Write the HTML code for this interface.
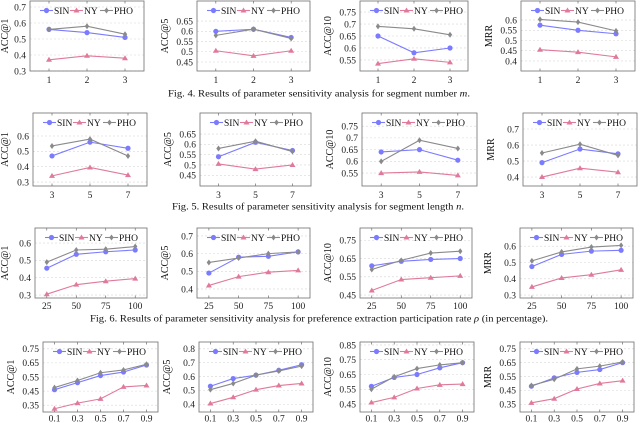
<!DOCTYPE html>
<html><head><meta charset="utf-8">
<style>
html,body{margin:0;padding:0;background:#fff;}
svg{display:block;font-family:"Liberation Serif",serif;}
</style></head>
<body>
<svg id="fig" width="640" height="423" viewBox="0 0 640 423" xmlns="http://www.w3.org/2000/svg"></svg>
<script>
// ---- data ----
const seriesNames = ["SIN","NY","PHO"];
const xCatsM = [1,2,3];
const xCatsN = [3,5,7];
const xCatsRho = [25,50,75,100];
const xCatsR4 = [0.1,0.3,0.5,0.7,0.9];
const metricNames = ["ACC@1","ACC@5","ACC@10","MRR"];

const r1c1SIN=[0.56,0.54,0.51], r1c1NY=[0.37,0.395,0.38], r1c1PHO=[0.56,0.58,0.53];
const r1c2SIN=[0.60,0.61,0.57], r1c2NY=[0.505,0.48,0.505], r1c2PHO=[0.58,0.61,0.565];
const r1c3SIN=[0.65,0.58,0.60], r1c3NY=[0.535,0.555,0.54], r1c3PHO=[0.69,0.68,0.655];
const r1c4SIN=[0.575,0.55,0.533], r1c4NY=[0.455,0.443,0.42], r1c4PHO=[0.603,0.59,0.547];

const r2c1SIN=[0.47,0.56,0.52], r2c1NY=[0.34,0.395,0.345], r2c1PHO=[0.535,0.58,0.47];
const r2c2SIN=[0.54,0.61,0.57], r2c2NY=[0.505,0.48,0.50], r2c2PHO=[0.58,0.615,0.565];
const r2c3SIN=[0.64,0.65,0.605], r2c3NY=[0.55,0.555,0.54], r2c3PHO=[0.60,0.69,0.655];
const r2c4SIN=[0.49,0.575,0.545], r2c4NY=[0.40,0.455,0.43], r2c4PHO=[0.55,0.605,0.535];

const r3c1SIN=[0.455,0.535,0.55,0.56], r3c1NY=[0.305,0.36,0.38,0.395], r3c1PHO=[0.49,0.56,0.565,0.58];
const r3c2SIN=[0.49,0.58,0.585,0.61], r3c2NY=[0.42,0.47,0.495,0.505], r3c2PHO=[0.55,0.575,0.60,0.61];
const r3c3SIN=[0.61,0.635,0.645,0.65], r3c3NY=[0.475,0.535,0.545,0.555], r3c3PHO=[0.59,0.64,0.68,0.69];
const r3c4SIN=[0.475,0.55,0.57,0.575], r3c4NY=[0.35,0.405,0.425,0.455], r3c4PHO=[0.51,0.565,0.595,0.605];

const r4c1SIN=[0.46,0.51,0.56,0.585,0.635], r4c1NY=[0.325,0.365,0.395,0.48,0.49], r4c1PHO=[0.475,0.525,0.58,0.60,0.64];
const r4c2SIN=[0.53,0.585,0.61,0.645,0.685], r4c2NY=[0.405,0.45,0.505,0.535,0.55], r4c2PHO=[0.505,0.55,0.61,0.64,0.675];
const r4c3SIN=[0.57,0.63,0.65,0.695,0.73], r4c3NY=[0.46,0.495,0.555,0.58,0.585], r4c3PHO=[0.55,0.635,0.69,0.715,0.73];
const r4c4SIN=[0.48,0.54,0.58,0.60,0.65], r4c4NY=[0.36,0.39,0.46,0.50,0.52], r4c4PHO=[0.485,0.53,0.605,0.625,0.655];

const r1Ticks=[[0.3,0.4,0.5,0.6,0.7],[0.45,0.5,0.55,0.6,0.65],[0.55,0.6,0.65,0.7,0.75],[0.4,0.45,0.5,0.55,0.6]];
const r2Ticks=[[0.3,0.4,0.5,0.6],[0.45,0.5,0.55,0.6,0.65],[0.55,0.6,0.65,0.7,0.75],[0.4,0.5,0.6,0.7]];
const r3Ticks=[[0.3,0.4,0.5,0.6],[0.4,0.5,0.6,0.7],[0.45,0.55,0.65,0.75],[0.3,0.4,0.5,0.6]];
const r4Ticks=[[0.35,0.45,0.55,0.65,0.75],[0.4,0.5,0.6,0.7,0.8],[0.45,0.55,0.65,0.75,0.85],[0.35,0.45,0.55,0.65,0.75]];
</script>
<script>
const NS="http://www.w3.org/2000/svg";
const svg=document.getElementById("fig");
const COLORS={SIN:"#7b7bff",NY:"#e07a9a",PHO:"#8a8a8a"};
function mk(tag,attrs,parent){const e=document.createElementNS(NS,tag);for(const k in attrs)e.setAttribute(k,attrs[k]);(parent||svg).appendChild(e);return e;}
function fmt(v){return String(+v.toFixed(2));}
function marker(g,name,x,y){
  const c=COLORS[name];let m;
  if(name==="SIN"){m=mk("circle",{cx:x,cy:y,r:2.6,fill:c},g);}
  else if(name==="NY"){m=mk("path",{d:`M${x},${y-3}L${x+3},${y+2}L${x-3},${y+2}Z`,fill:c},g);}
  else{m=mk("path",{d:`M${x},${y-3}L${x+2.2},${y}L${x},${y+3}L${x-2.2},${y}Z`,fill:c},g);}
  
  
}
function chart(id,box,xDom,yDom,xCats,yTicks,series,ylabel,labOff){
  const [L,T,R,B]=box;
  const g=mk("g",{});
  
  
  const sx=v=>L+(v-xDom[0])/(xDom[1]-xDom[0])*(R-L);
  const sy=v=>B-(v-yDom[0])/(yDom[1]-yDom[0])*(B-T);
  yTicks.forEach(t=>{
    const y=sy(t);
    const gl=mk("line",{x1:L,x2:R,y1:y,y2:y,stroke:"#d6d6d6","stroke-width":0.6,"stroke-dasharray":"2,2"},g);
    
    
    const tl=mk("text",{x:L-4,y:y+3.3,"font-size":9.5,"text-anchor":"end",fill:"#222"},g);
    tl.textContent=fmt(t);
    
    
  });
  xCats.forEach(c=>{
    const x=sx(c);
    mk("line",{x1:x,x2:x,y1:B,y2:B-2.5,stroke:"#555","stroke-width":0.6},g);
    mk("line",{x1:x,x2:x,y1:T,y2:T+2.5,stroke:"#555","stroke-width":0.6},g);
    const tl=mk("text",{x:x,y:B+labOff,"font-size":9.5,"text-anchor":"middle",fill:"#222"},g);
    tl.textContent=String(c);
    
    
  });
  const frame=mk("rect",{x:L,y:T,width:R-L,height:B-T,fill:"none",stroke:"#6e6e6e","stroke-width":0.8},g);
  
  
  const tx=Math.max(L-29,8);
  const yl=mk("text",{x:0,y:0,"font-size":10,"text-anchor":"middle",fill:"#111",transform:`translate(${tx},${(T+B)/2}) rotate(-90)`},g);
  yl.textContent=ylabel;
  
  
  seriesNames.forEach((n,i)=>{
    const vals=series[i];
    const pts=vals.map((v,j)=>sx(xCats[j])+","+sy(v)).join(" ");
    const pl=mk("polyline",{points:pts,fill:"none",stroke:COLORS[n],"stroke-width":1.1},g);
    
    
    vals.forEach((v,j)=>marker(g,n,sx(xCats[j]),sy(v)));
  });
  const lg=mk("g",{},g);
  
  
  const ly=T+9.5;
  const offs=[10,40,70];
  seriesNames.forEach((n,i)=>{
    const x0=L+offs[i];
    mk("line",{x1:x0,x2:x0+13,y1:ly,y2:ly,stroke:COLORS[n],"stroke-width":1.1},lg);
    marker(lg,n,x0+6.5,ly);
    const t=mk("text",{x:x0+14,y:ly+3.5,"font-size":9.5,fill:"#111"},lg);
    t.textContent=n;
    
    
  });
}
const rows=[
 {T:1,B:71,lo:12,xDom:[0.5,3.5],cats:xCatsM,boxes:[[30,144],[197,310],[360,468],[521,635]],
  yd:[[0.3,0.7375],[0.406,0.748],[0.504,0.796],[0.351,0.693]],ticks:r1Ticks,
  data:[[r1c1SIN,r1c1NY,r1c1PHO],[r1c2SIN,r1c2NY,r1c2PHO],[r1c3SIN,r1c3NY,r1c3PHO],[r1c4SIN,r1c4NY,r1c4PHO]]},
 {T:113,B:186,lo:12,xDom:[2,8],cats:xCatsN,boxes:[[33,147],[200,311],[362,477],[523,637]],
  yd:[[0.274,0.75],[0.398,0.752],[0.495,0.806],[0.344,0.80]],ticks:r2Ticks,
  data:[[r2c1SIN,r2c1NY,r2c1PHO],[r2c2SIN,r2c2NY,r2c2PHO],[r2c3SIN,r2c3NY,r2c3PHO],[r2c4SIN,r2c4NY,r2c4PHO]]},
 {T:228,B:298,lo:11,xDom:[15,110],cats:xCatsRho,boxes:[[35,147],[197,310],[360,472],[520,633]],
  yd:[[0.283,0.687],[0.349,0.745],[0.434,0.817],[0.282,0.712]],ticks:r3Ticks,
  data:[[r3c1SIN,r3c1NY,r3c1PHO],[r3c2SIN,r3c2NY,r3c2PHO],[r3c3SIN,r3c3NY,r3c3PHO],[r3c4SIN,r3c4NY,r3c4PHO]]},
 {T:342,B:412,lo:9.5,xDom:[0,1],cats:xCatsR4,boxes:[[43,158],[199,313],[360,474],[520,634]],
  yd:[[0.302,0.798],[0.344,0.849],[0.396,0.87],[0.294,0.799]],ticks:r4Ticks,
  data:[[r4c1SIN,r4c1NY,r4c1PHO],[r4c2SIN,r4c2NY,r4c2PHO],[r4c3SIN,r4c3NY,r4c3PHO],[r4c4SIN,r4c4NY,r4c4PHO]]}
];
rows.forEach((r,ri)=>{
  r.boxes.forEach((b,ci)=>{
    chart(`chart-r${ri+1}-${metricNames[ci].toLowerCase().replace('@','at')}`,[b[0],r.T,b[1],r.B],r.xDom,r.yd[ci],r.cats,r.ticks[ci],r.data[ci],metricNames[ci],r.lo);
  });
});
const caps=[
 {y:96.5,x:168,w:302,parts:["Fig. 4.  Results of parameter sensitivity analysis for segment number ","m","."]},
 {y:209.5,x:172,w:292,parts:["Fig. 5.  Results of parameter sensitivity analysis for segment length ","n","."]},
 {y:321.5,x:90,w:458,parts:["Fig. 6.  Results of parameter sensitivity analysis for preference extraction participation rate ","\u03C1"," (in percentage)."]}
];
caps.forEach((c,i)=>{
  const t=mk("text",{x:c.x,y:c.y,"font-size":9.6,fill:"#111",textLength:c.w,lengthAdjust:"spacingAndGlyphs"});
  
  
  c.parts.forEach((p,k)=>{const s=mk("tspan",{},t);if(k===1)s.setAttribute("font-style","italic");s.textContent=p;});
});
</script>
</body></html>
